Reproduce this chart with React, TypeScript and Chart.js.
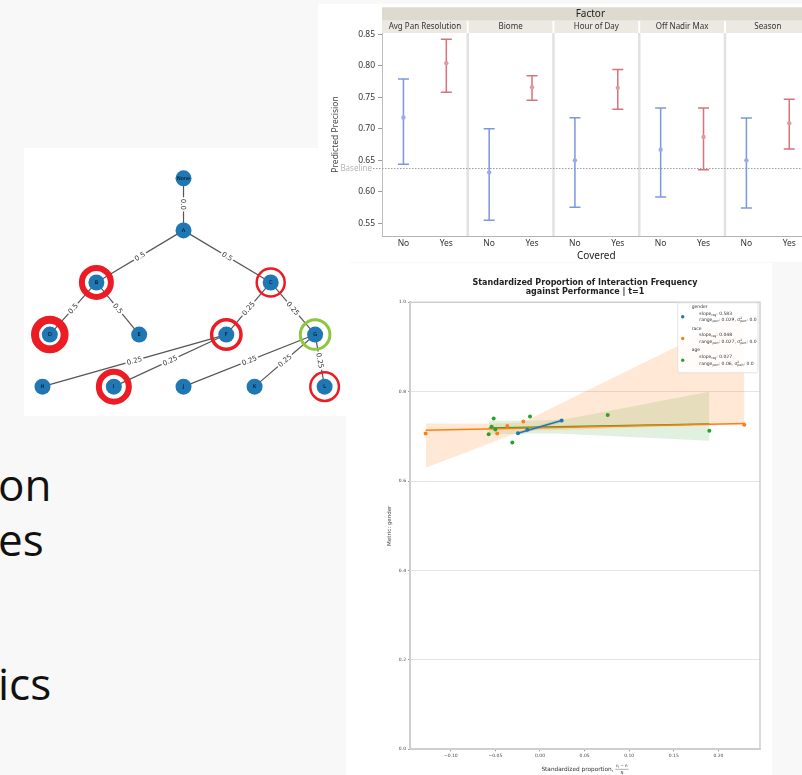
import React, { useEffect, useRef } from "react";
import { Chart, registerables } from "chart.js";
Chart.register(...registerables);

// ---------------- Error-bar chart (JMP style) ----------------
const factors = ["Avg Pan Resolution", "Biome", "Hour of Day", "Off Nadir Max", "Season"];
const coveredLabels = ["No", "Yes"];
const noMean = [0.718, 0.631, 0.65, 0.667, 0.65];
const noLower = [0.644, 0.555, 0.5755, 0.592, 0.5745];
const noUpper = [0.779, 0.7, 0.7175, 0.733, 0.717];
const yesMean = [0.804, 0.766, 0.765, 0.687, 0.709];
const yesLower = [0.758, 0.7455, 0.731, 0.635, 0.668];
const yesUpper = [0.842, 0.784, 0.794, 0.733, 0.747];
const baselineValue = 0.637;
const precisionTicks = [0.55, 0.6, 0.65, 0.7, 0.75, 0.8, 0.85];

// ---------------- Tree graph ----------------
const nodeNames = ["None", "A", "B", "C", "D", "E", "F", "G", "H", "I", "J", "K", "L"];
const nodeX = [0, 0, -1.238, 1.239, -1.9, -0.63, 0.608, 1.87, -2.004, -0.99, 0, 1.01, 2.005];
const nodeDepth = [0, 1, 2, 2, 3, 3, 3, 3, 4, 4, 4, 4, 4];
const edgeFrom = ["None", "A", "A", "B", "B", "C", "C", "F", "F", "G", "G", "G"];
const edgeTo = ["A", "B", "C", "D", "E", "F", "G", "H", "I", "J", "K", "L"];
const edgeWeights = ["0.0", "0.5", "0.5", "0.5", "0.5", "0.25", "0.25", "0.25", "0.25", "0.25", "0.25", "0.25"];
const circledNodes = ["B", "D", "C", "F", "I", "L", "G"];

// ---------------- Scatter / regression chart ----------------
const genderX = [-0.0247, -0.0142, 0.0243];
const genderY = [0.707, 0.7146, 0.7357];
const raceX = [-0.1282, -0.0479, -0.0366, -0.0187, 0.229];
const raceY = [0.7065, 0.7065, 0.723, 0.7335, 0.7258];
const ageX = [-0.0575, -0.0542, -0.0519, -0.0501, -0.031, -0.0112, 0.0759, 0.1898];
const ageY = [0.705, 0.7214, 0.74, 0.7155, 0.6863, 0.7447, 0.7476, 0.7124];
const genderFitX = [-0.0247, 0.0243];
const genderFitY = [0.707, 0.7357];
const raceFitX = [-0.1282, 0.229];
const raceFitY = [0.714, 0.729];
const ageFitX = [-0.0575, 0.1898];
const ageFitY = [0.719, 0.728];
const raceBandX = [-0.1282, -0.05, -0.02, 0.05, 0.15, 0.229];
const raceBandUpper = [0.729, 0.729, 0.731, 0.8, 0.898, 0.976];
const raceBandLower = [0.63, 0.689, 0.712, 0.716, 0.722, 0.726];
const ageBandX = [-0.0575, -0.02, 0.025, 0.1898];
const ageBandUpper = [0.735, 0.735, 0.737, 0.8];
const ageBandLower = [0.705, 0.706, 0.706, 0.69];
const genderBandX = [-0.0247, 0.0243];
const genderBandUpper = [0.711, 0.74];
const genderBandLower = [0.703, 0.731];
const propTicks = [-0.1, -0.05, 0, 0.05, 0.1, 0.15, 0.2];
const legendGroups = ["gender", "race", "age"];
const legendSlopes = ["0.583", "0.048", "0.027"];
const legendRanges = ["0.029", "0.027", "0.06"];
const legendVariances = ["0.0", "0.0", "0.0"];

// ---------------- styles ----------------
const BLUE = "#7d97df";
const BLUE_PT = "#98ade8";
const RED = "#d7727b";
const RED_PT = "#e39aa1";
const JMP_FONT = '"Noto Sans"';
const MPL_FONT = '"DejaVu Sans"';
const MPL_COLORS = ["#1f77b4", "#ff7f0e", "#2ca02c"];
const RING_RED = "#ec1c24";
const ringStyle: any = {
  B: { r: 14.5, w: 6, c: RING_RED },
  D: { r: 14.8, w: 8, c: RING_RED },
  C: { r: 14, w: 2.5, c: RING_RED },
  F: { r: 14.7, w: 3.5, c: RING_RED },
  I: { r: 15, w: 6, c: RING_RED },
  L: { r: 14.3, w: 2.5, c: RING_RED },
  G: { r: 14.8, w: 3, c: "#8dc63f" },
};

// ================= Error chart =================
const jmpPlugin = {
  id: "jmpFacets",
  beforeDatasetsDraw(chart: any) {
    const { ctx, chartArea: ca, scales } = chart;
    const x = scales.x, y = scales.y;
    ctx.save();
    // panel separators
    ctx.strokeStyle = "#e2e2e2";
    ctx.lineWidth = 2.5;
    for (let i = 1; i < factors.length; i++) {
      const px = x.getPixelForValue(i);
      ctx.beginPath();
      ctx.moveTo(px, ca.top);
      ctx.lineTo(px, ca.bottom);
      ctx.stroke();
    }
    // baseline
    const by = y.getPixelForValue(baselineValue);
    ctx.setLineDash([1.5, 1.5]);
    ctx.strokeStyle = "#9a9a9a";
    ctx.lineWidth = 1;
    ctx.beginPath();
    ctx.moveTo(ca.left - 9, by);
    ctx.lineTo(chart.width, by);
    ctx.stroke();
    ctx.setLineDash([]);
    ctx.fillStyle = "#b4b4b4";
    ctx.font = `8px ${JMP_FONT}`;
    ctx.textAlign = "right";
    ctx.textBaseline = "middle";
    ctx.fillText("Baseline", ca.left - 10, by);
    // error bars
    const drawBar = (cx: number, lo: number, hi: number, color: string) => {
      const yl = y.getPixelForValue(lo), yh = y.getPixelForValue(hi);
      ctx.strokeStyle = color;
      ctx.lineWidth = 1.5;
      ctx.beginPath();
      ctx.moveTo(cx, yl);
      ctx.lineTo(cx, yh);
      ctx.moveTo(cx - 5.5, yl);
      ctx.lineTo(cx + 5.5, yl);
      ctx.moveTo(cx - 5.5, yh);
      ctx.lineTo(cx + 5.5, yh);
      ctx.stroke();
    };
    factors.forEach((_, i) => {
      drawBar(x.getPixelForValue(i + 0.25), noLower[i], noUpper[i], BLUE);
      drawBar(x.getPixelForValue(i + 0.75), yesLower[i], yesUpper[i], RED);
    });
    ctx.restore();
  },
  afterDraw(chart: any) {
    const { ctx, chartArea: ca, scales } = chart;
    const x = scales.x;
    ctx.save();
    // Factor band
    ctx.fillStyle = "#dddacf";
    ctx.fillRect(ca.left, ca.top - 25.7, chart.width - ca.left, 13.4);
    ctx.fillStyle = "#222";
    ctx.font = `10px ${JMP_FONT}`;
    ctx.textAlign = "center";
    ctx.textBaseline = "middle";
    ctx.fillText("Factor", (ca.left + ca.right) / 2 - 6, ca.top - 19);
    // facet labels
    factors.forEach((f, i) => {
      const x0 = x.getPixelForValue(i), x1 = x.getPixelForValue(i + 1);
      ctx.fillStyle = "#ebe9e2";
      ctx.fillRect(x0 + (i === 0 ? 0 : 1), ca.top - 12.3, x1 - x0 - (i === 0 ? 1 : 2), 12.3);
      ctx.fillStyle = "#333";
      ctx.font = `8px ${JMP_FONT}`;
      ctx.fillText(f, (x0 + x1) / 2, ca.top - 6);
    });
    ctx.restore();
  },
};

function errorConfig(): any {
  return {
    type: "scatter",
    data: {
      datasets: [
        {
          label: coveredLabels[0],
          data: noMean.map((m, i) => ({ x: i + 0.25, y: m })),
          pointRadius: 2.2,
          pointBackgroundColor: BLUE_PT,
          pointBorderWidth: 0,
        },
        {
          label: coveredLabels[1],
          data: yesMean.map((m, i) => ({ x: i + 0.75, y: m })),
          pointRadius: 2.2,
          pointBackgroundColor: RED_PT,
          pointBorderWidth: 0,
        },
      ],
    },
    options: {
      responsive: false,
      animation: false,
      devicePixelRatio: 1,
      events: [],
      layout: { padding: { top: 29, right: 7.3, left: 0, bottom: 0 } },
      plugins: { legend: { display: false }, tooltip: { enabled: false } },
      scales: {
        x: {
          type: "linear",
          min: 0,
          max: factors.length,
          afterBuildTicks: (s: any) => {
            const t: any[] = [];
            factors.forEach((_, i) => {
              t.push({ value: i + 0.25 });
              t.push({ value: i + 0.75 });
            });
            s.ticks = t;
          },
          afterFit: (s: any) => {
            s.height = 26;
          },
          ticks: {
            callback: (_v: any, i: number) => coveredLabels[i % 2],
            font: { family: "Noto Sans", size: 8.5 },
            color: "#333",
            padding: 2,
            maxRotation: 0,
            autoSkip: false,
          },
          grid: { display: false, drawTicks: false },
          border: { display: true, color: "#b4b4b4", width: 1 },
          title: {
            display: true,
            text: "Covered",
            font: { family: "Noto Sans", size: 10 },
            color: "#222",
            padding: { top: 0, bottom: 0 },
          },
        },
        y: {
          type: "linear",
          min: 0.53,
          max: 0.852,
          afterBuildTicks: (s: any) => {
            s.ticks = precisionTicks.map((v) => ({ value: v }));
          },
          afterFit: (s: any) => {
            s.width = 64;
          },
          ticks: {
            callback: (v: any) => Number(v).toFixed(2),
            font: { family: "Noto Sans", size: 8.5 },
            color: "#333",
            padding: 3,
          },
          grid: { display: true, drawOnChartArea: false, drawTicks: true, tickLength: 4, color: "#999" },
          border: { display: true, color: "#bdbdbd", width: 1 },
          title: {
            display: true,
            text: "Predicted Precision",
            font: { family: "Noto Sans", size: 8.5 },
            color: "#444",
            padding: { top: 12, bottom: 0 },
          },
        },
      },
    },
    plugins: [jmpPlugin],
  };
}

// ================= Tree =================
const treePlugin = {
  id: "treeGraph",
  beforeDatasetsDraw(chart: any) {
    const { ctx, scales } = chart;
    const pos = (n: string) => {
      const i = nodeNames.indexOf(n);
      return [scales.x.getPixelForValue(nodeX[i]), scales.y.getPixelForValue(nodeDepth[i])];
    };
    ctx.save();
    ctx.strokeStyle = "#555";
    ctx.lineWidth = 1.2;
    edgeFrom.forEach((f, k) => {
      const [x1, y1] = pos(f);
      const [x2, y2] = pos(edgeTo[k]);
      ctx.beginPath();
      ctx.moveTo(x1, y1);
      ctx.lineTo(x2, y2);
      ctx.stroke();
    });
    ctx.font = `7px ${MPL_FONT}`;
    ctx.textAlign = "center";
    ctx.textBaseline = "middle";
    edgeFrom.forEach((f, k) => {
      const [x1, y1] = pos(f);
      const [x2, y2] = pos(edgeTo[k]);
      let a = Math.atan2(y2 - y1, x2 - x1);
      if (a > Math.PI / 2 + 1e-6) a -= Math.PI;
      if (a < -Math.PI / 2 - 1e-6) a += Math.PI;
      ctx.save();
      ctx.translate((x1 + x2) / 2, (y1 + y2) / 2);
      ctx.rotate(a);
      const w = ctx.measureText(edgeWeights[k]).width;
      ctx.fillStyle = "#fff";
      ctx.fillRect(-w / 2 - 1.5, -4.5, w + 3, 9);
      ctx.fillStyle = "#333";
      ctx.fillText(edgeWeights[k], 0, 0.5);
      ctx.restore();
    });
    ctx.restore();
  },
  afterDatasetsDraw(chart: any) {
    const { ctx, scales } = chart;
    ctx.save();
    ctx.font = `5px ${MPL_FONT}`;
    ctx.textAlign = "center";
    ctx.textBaseline = "middle";
    ctx.fillStyle = "#000";
    nodeNames.forEach((n, i) => {
      ctx.fillText(n, scales.x.getPixelForValue(nodeX[i]), scales.y.getPixelForValue(nodeDepth[i]) + 0.3);
    });
    circledNodes.forEach((n) => {
      const i = nodeNames.indexOf(n);
      const st = ringStyle[n];
      ctx.strokeStyle = st.c;
      ctx.lineWidth = st.w;
      ctx.beginPath();
      ctx.arc(scales.x.getPixelForValue(nodeX[i]), scales.y.getPixelForValue(nodeDepth[i]), st.r, 0, Math.PI * 2);
      ctx.stroke();
    });
    ctx.restore();
  },
};

function treeConfig(): any {
  return {
    type: "scatter",
    data: {
      datasets: [
        {
          data: nodeNames.map((_, i) => ({ x: nodeX[i], y: nodeDepth[i] })),
          pointRadius: 8,
          pointBackgroundColor: "#1f77b4",
          pointBorderWidth: 0,
        },
      ],
    },
    options: {
      responsive: false,
      animation: false,
      devicePixelRatio: 1,
      events: [],
      layout: { padding: 0 },
      plugins: { legend: { display: false }, tooltip: { enabled: false } },
      scales: {
        x: { type: "linear", display: false, min: -2.153, max: 2.252 },
        y: { type: "linear", display: false, min: -0.428, max: 4.41, reverse: true },
      },
    },
    plugins: [treePlugin],
  };
}

// ================= Scatter =================
function drawRich(ctx: any, x: number, y: number, parts: any[], size: number) {
  let cx = x;
  for (const p of parts) {
    const s = p.sub || p.sup ? size * 0.68 : size;
    ctx.font = `${s}px ${MPL_FONT}`;
    const dy = p.sub ? size * 0.32 : p.sup ? -size * 0.38 : 0;
    ctx.fillText(p.t, cx, y + dy);
    if (!p.stack) cx += ctx.measureText(p.t).width;
  }
  return cx - x;
}

const mplPlugin = {
  id: "mplDecor",
  afterDraw(chart: any) {
    const { ctx, chartArea: ca } = chart;
    ctx.save();
    // top + right spines
    ctx.strokeStyle = "#cfcfcf";
    ctx.lineWidth = 1.5;
    ctx.beginPath();
    ctx.moveTo(ca.left, ca.top);
    ctx.lineTo(ca.right, ca.top);
    ctx.lineTo(ca.right, ca.bottom);
    ctx.stroke();
    // title
    const cx = (ca.left + ca.right) / 2;
    ctx.fillStyle = "#222";
    ctx.font = `bold 8px ${MPL_FONT}`;
    ctx.textAlign = "center";
    ctx.textBaseline = "middle";
    ctx.fillText("Standardized Proportion of Interaction Frequency", cx, ca.top - 19);
    ctx.fillText("against Performance | t=1", cx, ca.top - 10);
    // x title with fraction
    const ty = ca.bottom + 20;
    ctx.font = `5.8px ${MPL_FONT}`;
    const lead = "Standardized proportion, ";
    const lw = ctx.measureText(lead).width;
    ctx.font = `4px ${MPL_FONT}`;
    const num = "n  − n\u0304";
    const fw = ctx.measureText(num).width + 1;
    const x0 = cx - (lw + fw) / 2;
    ctx.textAlign = "left";
    ctx.fillStyle = "#333";
    ctx.font = `5.8px ${MPL_FONT}`;
    ctx.fillText(lead, x0, ty);
    const fx = x0 + lw;
    drawRich(ctx, fx + 0.5, ty - 3, [{ t: "n" }, { t: "i", sub: true }, { t: " − n\u0304" }], 4);
    ctx.strokeStyle = "#333";
    ctx.lineWidth = 0.4;
    ctx.beginPath();
    ctx.moveTo(fx, ty);
    ctx.lineTo(fx + fw, ty);
    ctx.stroke();
    ctx.font = `4px ${MPL_FONT}`;
    ctx.textAlign = "center";
    ctx.fillText("N", fx + fw / 2, ty + 3.4);
    // legend
    const bw = 80.3, bh = 70;
    const bx = ca.right - 2 - bw, by = ca.top + 0.5;
    ctx.fillStyle = "rgba(255,255,255,0.85)";
    ctx.strokeStyle = "#dcdcdc";
    ctx.lineWidth = 0.8;
    ctx.beginPath();
    ctx.roundRect(bx, by, bw, bh, 2);
    ctx.fill();
    ctx.stroke();
    ctx.textAlign = "left";
    legendGroups.forEach((g, k) => {
      const gy = by + 4 + k * 21.7;
      ctx.fillStyle = MPL_COLORS[k];
      ctx.beginPath();
      ctx.arc(bx + 5, gy + 10, 1.7, 0, Math.PI * 2);
      ctx.fill();
      ctx.fillStyle = "#333";
      ctx.font = `4.5px ${MPL_FONT}`;
      ctx.fillText(g, bx + 14, gy);
      drawRich(ctx, bx + 21.6, gy + 6.6, [{ t: "slope" }, { t: "reg", sub: true }, { t: ": " + legendSlopes[k] }], 4.5);
      drawRich(
        ctx,
        bx + 21.6,
        gy + 13.3,
        [
          { t: "range" },
          { t: "pert", sub: true },
          { t: ": " + legendRanges[k] + ", σ" },
          { t: "2", sup: true, stack: true },
          { t: "pert", sub: true },
          { t: ": " + legendVariances[k] },
        ],
        4.5
      );
    });
    ctx.restore();
  },
};

function pts(xs: number[], ys: number[]) {
  return xs.map((x, i) => ({ x, y: ys[i] }));
}

function scatterConfig(): any {
  const pointSet = (xs: number[], ys: number[], c: string, label: string) => ({
    type: "scatter",
    label,
    data: pts(xs, ys),
    pointRadius: 2,
    pointBackgroundColor: c,
    pointBorderWidth: 0,
    order: 0,
  });
  const fitSet = (xs: number[], ys: number[], c: string) => ({
    type: "line",
    data: pts(xs, ys),
    borderColor: c,
    borderWidth: 1.5,
    pointRadius: 0,
    fill: false,
    tension: 0,
    order: 1,
  });
  const bandUpper = (xs: number[], ys: number[]) => ({
    type: "line",
    data: pts(xs, ys),
    borderColor: "rgba(0,0,0,0)",
    borderWidth: 1,
    pointRadius: 0,
    fill: false,
    tension: 0,
    order: 2,
  });
  const bandLower = (xs: number[], ys: number[], bg: string) => ({
    type: "line",
    data: pts(xs, ys),
    borderColor: "rgba(0,0,0,0)",
    borderWidth: 1,
    pointRadius: 0,
    fill: "-1",
    backgroundColor: bg,
    tension: 0,
    order: 2,
  });
  return {
    type: "scatter",
    data: {
      datasets: [
        pointSet(genderX, genderY, MPL_COLORS[0], legendGroups[0]),
        pointSet(raceX, raceY, MPL_COLORS[1], legendGroups[1]),
        pointSet(ageX, ageY, MPL_COLORS[2], legendGroups[2]),
        fitSet(genderFitX, genderFitY, MPL_COLORS[0]),
        fitSet(raceFitX, raceFitY, MPL_COLORS[1]),
        fitSet(ageFitX, ageFitY, MPL_COLORS[2]),
        bandUpper(raceBandX, raceBandUpper),
        bandLower(raceBandX, raceBandLower, "rgba(255,127,14,0.17)"),
        bandUpper(ageBandX, ageBandUpper),
        bandLower(ageBandX, ageBandLower, "rgba(44,160,44,0.15)"),
        bandUpper(genderBandX, genderBandUpper),
        bandLower(genderBandX, genderBandLower, "rgba(31,119,180,0.15)"),
      ],
    },
    options: {
      responsive: false,
      animation: false,
      devicePixelRatio: 1,
      events: [],
      layout: { padding: { top: 39.3, right: 12, left: 0, bottom: 0 } },
      plugins: { legend: { display: false }, tooltip: { enabled: false } },
      scales: {
        x: {
          type: "linear",
          min: -0.1457,
          max: 0.2466,
          afterBuildTicks: (s: any) => {
            s.ticks = propTicks.map((v) => ({ value: v }));
          },
          afterFit: (s: any) => {
            s.height = 25.7;
          },
          ticks: {
            callback: (v: any) => (v < -1e-9 ? "−" : "") + Math.abs(Number(v)).toFixed(2),
            font: { family: "DejaVu Sans", size: 4.5 },
            color: "#444",
            padding: 1.5,
            maxRotation: 0,
            autoSkip: false,
          },
          grid: { display: true, drawOnChartArea: false, drawTicks: true, tickLength: 2, color: "#999" },
          border: { display: true, color: "#cfcfcf", width: 2 },
        },
        y: {
          type: "linear",
          min: 0,
          max: 1,
          ticks: {
            stepSize: 0.2,
            callback: (v: any) => Number(v).toFixed(1),
            font: { family: "DejaVu Sans", size: 4.5 },
            color: "#444",
            padding: 2,
          },
          afterFit: (s: any) => {
            s.width = 64;
          },
          grid: { color: "#e4e4e4", lineWidth: 1, drawTicks: true, tickLength: 2, tickColor: "#999" },
          border: { display: true, color: "#cfcfcf", width: 2 },
          title: {
            display: true,
            text: "Metric: gender",
            font: { family: "DejaVu Sans", size: 5.5 },
            color: "#444",
            padding: { top: 40.7, bottom: 0 },
          },
        },
      },
    },
    plugins: [mplPlugin],
  };
}

function ChartCanvas({ make, width, height }: { make: () => any; width: number; height: number }) {
  const ref = useRef<HTMLCanvasElement | null>(null);
  useEffect(() => {
    if (!ref.current) return;
    const chart = new Chart(ref.current, make());
    return () => chart.destroy();
  }, []);
  return <canvas ref={ref} width={width} height={height} style={{ display: "block", width, height }} />;
}

const slideText: React.CSSProperties = {
  position: "absolute",
  left: -2,
  fontFamily: '"Open Sans", "Noto Sans", sans-serif',
  fontSize: 44,
  lineHeight: "44px",
  color: "#111",
  whiteSpace: "nowrap",
};

export default function App() {
  return (
    <div
      style={{
        position: "absolute",
        left: 0,
        top: 0,
        width: 802,
        height: 775,
        overflow: "hidden",
        background: "#f8f8f8",
      }}
    >
      <div style={{ position: "absolute", left: 24, top: 148, width: 326, height: 268, background: "#fff" }}>
        <ChartCanvas make={treeConfig} width={326} height={268} />
      </div>
      <div style={{ position: "absolute", left: 346, top: 263, width: 426, height: 512, background: "#fff" }}>
        <ChartCanvas make={scatterConfig} width={426} height={512} />
      </div>
      <div
        style={{
          position: "absolute",
          left: 318,
          top: 4,
          width: 484,
          height: 258,
          background: "#fff",
          overflow: "hidden",
        }}
      >
        <ChartCanvas make={errorConfig} width={500} height={258} />
      </div>
      <div style={{ ...slideText, top: 462 }}>on</div>
      <div style={{ ...slideText, top: 517 }}>es</div>
      <div style={{ ...slideText, top: 661 }}>ics</div>
    </div>
  );
}
